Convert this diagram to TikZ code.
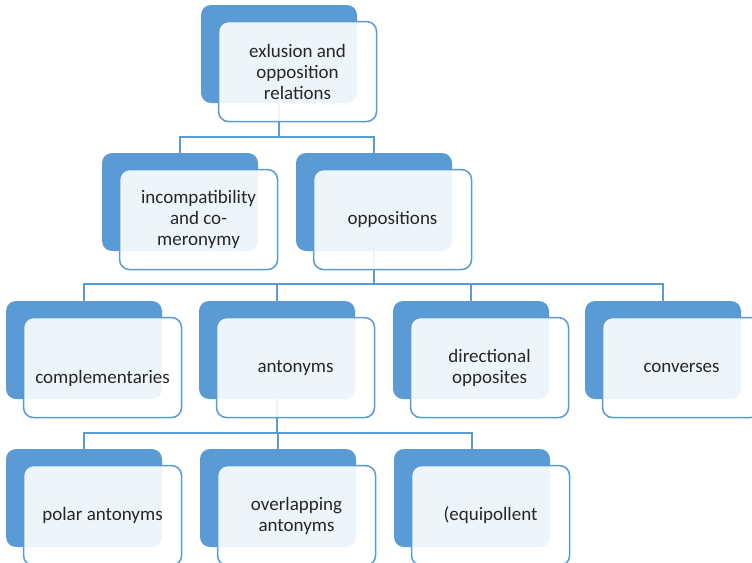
\documentclass[tikz,border=0pt]{standalone}
\usepackage{fontspec}
\setmainfont{Carlito}
\usetikzlibrary{positioning}
\definecolor{accent}{HTML}{5B9BD5}

\begin{document}
\begin{tikzpicture}[x=1pt,y=1pt,
		backbox/.style={rectangle,rounded corners=10pt,fill=accent,minimum width=156pt,minimum height=98pt,inner sep=0pt},
		frontbox/.style={rectangle,rounded corners=10pt,draw=accent,line width=1.5pt,fill=white,fill opacity=0.9,text opacity=1,minimum width=158pt,minimum height=100pt,inner sep=2pt,align=center,text=black!85,font=\fontsize{19}{21}\selectfont},
		link/.style={draw=accent,line width=1.5pt}]
			\useasboundingbox (0,0) rectangle (752,-562);
			
			% back boxes
			\node[backbox] (top) at (279,-54) {};
			\node[backbox] (incomp) at (180,-202) {};
			\node[backbox] (opp) at (374,-202) {};
			\node[backbox] (compl) at (84,-350) {};
			\node[backbox] (ant) at (277,-350) {};
			\node[backbox] (dir) at (471,-350) {};
			\node[backbox] (conv) at (663,-350) {};
			\node[backbox] (polar) at (84,-498) {};
			\node[backbox] (overl) at (278,-498) {};
			\node[backbox] (equip) at (472,-498) {};
			
			% connectors
			\draw[link] (top.south) -- ++(0,-34) -| (incomp.north);
			\draw[link] (top.south) -- ++(0,-34) -| (opp.north);
			\draw[link] (opp.south) -- ++(0,-33) -| (compl.north);
			\draw[link] (opp.south) -- ++(0,-33) -| (ant.north);
			\draw[link] (opp.south) -- ++(0,-33) -| (dir.north);
			\draw[link] (opp.south) -- ++(0,-33) -| (conv.north);
			\draw[link] (ant.south) -- ++(0,-34) -| (polar.north);
			\draw[link] (ant.south) -- ++(0,-34) -| (overl.north);
			\draw[link] (ant.south) -- ++(0,-34) -| (equip.north);
			
			% front boxes
			\node[frontbox, below right=16pt and 17pt of top.north west] (topT) {exlusion and\\opposition\\relations};
			\node[frontbox, below right=16pt and 17pt of incomp.north west] (incompT) {incompatibility\\and co-\\meronymy};
			\node[frontbox, below right=16pt and 17pt of opp.north west] (oppT) {oppositions};
			\node[frontbox, below right=16pt and 17pt of compl.north west] (complT) {\raisebox{-11pt}[13pt][4pt]{complementaries}};
			\node[frontbox, below right=16pt and 17pt of ant.north west] (antT) {antonyms};
			\node[frontbox, below right=16pt and 17pt of dir.north west] (dirT) {directional\\opposites};
			\node[frontbox, below right=16pt and 17pt of conv.north west] (convT) {converses};
			\node[frontbox, below right=16pt and 17pt of polar.north west] (polarT) {polar antonyms};
			\node[frontbox, below right=16pt and 17pt of overl.north west] (overlT) {overlapping\\antonyms};
			\node[frontbox, below right=16pt and 17pt of equip.north west] (equipT) {(equipollent};
		\end{tikzpicture}
\end{document}
